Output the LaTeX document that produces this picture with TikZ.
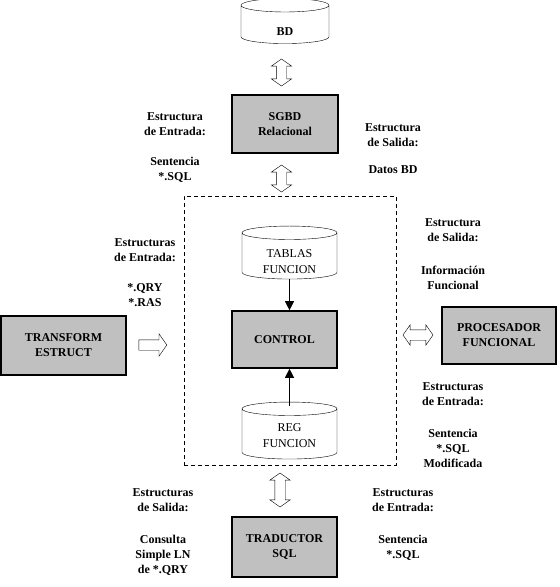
\documentclass[tikz,border=0pt]{standalone}
\usepackage{fontspec}
\setmainfont{Liberation Serif}
\usetikzlibrary{arrows.meta,positioning,shapes.geometric,shapes.arrows,calc}
\definecolor{boxgray}{RGB}{192,192,192}

\tikzset{
  caja/.style={draw,fill=boxgray,line width=1.6pt,align=center,inner sep=0pt,
    font=\bfseries\fontsize{12}{15}\selectfont},
  cyl/.style={cylinder,shape border rotate=90,draw,thin,fill=white,aspect=0.24,
    inner sep=0pt,text width=56pt,minimum width=95pt},
  cyltxt/.style={align=center,inner sep=0pt,font=\fontsize{12}{16}\selectfont},
  etiq/.style={align=center,inner sep=0pt,font=\bfseries\fontsize{12}{15}\selectfont},
  dblflecha/.style={double arrow,draw,thin,fill=white,inner sep=0pt,inner ysep=5pt,
    double arrow head extend=5pt,double arrow tip angle=110},
  flecha/.style={single arrow,draw,thin,fill=white,inner sep=0pt,inner ysep=5pt,
    single arrow head extend=6pt,single arrow tip angle=110},
  punta/.style={-{Triangle[length=9pt,width=9pt]},semithick}
}

\begin{document}
\begin{tikzpicture}[x=1pt,y=-1pt]
  \useasboundingbox (0,0) rectangle (560,587);
  % base de datos y gestor
  \node[cyl,minimum width=88pt,minimum height=45pt,
    label={[etiq,yshift=-7.5pt]center:BD}] (bd) at (285,24.5) {};
  \node[caja,minimum width=106pt,minimum height=58pt] (sgbd) at (285,124) {SGBD\\Relacional};
  \node[dblflecha,rotate=90,minimum height=27pt] (a1) at (281.5,72.5) {};
  \node[dblflecha,rotate=90,minimum height=27pt] (a2) at (281.5,178.5) {};
  \node[etiq] (entsgbd) at (175,124.5) {Estructura\\de Entrada:};
  \node[etiq] (sentsgbd) at (175,169.5) {Sentencia\\*.SQL};
  \node[etiq] (salsgbd) at (393,135.5) {Estructura\\de Salida:};
  \node[etiq] (datos) at (393,170) {Datos BD};
  % bloque central
  \node[draw,thin,dash pattern=on 4pt off 3pt,minimum width=212pt,minimum height=269pt] (grupo) at (290,330.5) {};
  \node[cyl,minimum height=53pt,
    label={[cyltxt,yshift=-6pt]center:TABLAS\\FUNCION}] (tablas) at (289.5,256) {};
  \node[caja,minimum width=105pt,minimum height=57pt] (control) at (284.5,339.5) {CONTROL};
  \node[cyl,minimum height=57pt,
    label={[cyltxt,yshift=-2pt]center:REG\\FUNCION}] (reg) at (289.5,434) {};
  \draw[punta] (tablas.bottom) -- (tablas.bottom |- control.north);
  \draw[punta] ([yshift=-4pt]reg.top) -- (reg.top |- control.south);
  % transformador
  \node[caja,minimum width=125pt,minimum height=59pt] (transform) at (63.5,345.5) {TRANSFORM\\ESTRUCT};
  \node[flecha,minimum height=28pt] (a5) at (151,345) {};
  \node[etiq] (enttrans) at (145,250.5) {Estructuras\\de Entrada:};
  \node[etiq] (qry) at (145,295.5) {*.QRY\\*.RAS};
  % procesador
  \node[caja,minimum width=114pt,minimum height=57pt] (procesador) at (499,335.5) {PROCESADOR\\FUNCIONAL};
  \node[dblflecha,minimum height=30pt] (a3) at (418,335) {};
  \node[etiq] (salproc) at (453,230.5) {Estructura\\de Salida:};
  \node[etiq] (info) at (453,277.5) {Información\\Funcional};
  \node[etiq] (entproc) at (453,394.5) {Estructuras\\de Entrada:};
  \node[etiq] (sentproc) at (453,448.5) {Sentencia\\*.SQL\\Modificada};
  % traductor
  \node[caja,minimum width=105pt,minimum height=60pt] (traductor) at (284.5,547) {TRADUCTOR\\SQL};
  \node[dblflecha,rotate=90,minimum height=34pt] (a4) at (280,490) {};
  \node[etiq] (saltrad) at (163,500) {Estructuras\\de Salida:};
  \node[etiq] (consulta) at (163,555) {Consulta\\Simple LN\\de *.QRY};
  \node[etiq] (enttrad) at (403,500) {Estructuras\\de Entrada:};
  \node[etiq] (senttrad) at (403,547.5) {Sentencia\\*.SQL};
\end{tikzpicture}
\end{document}
